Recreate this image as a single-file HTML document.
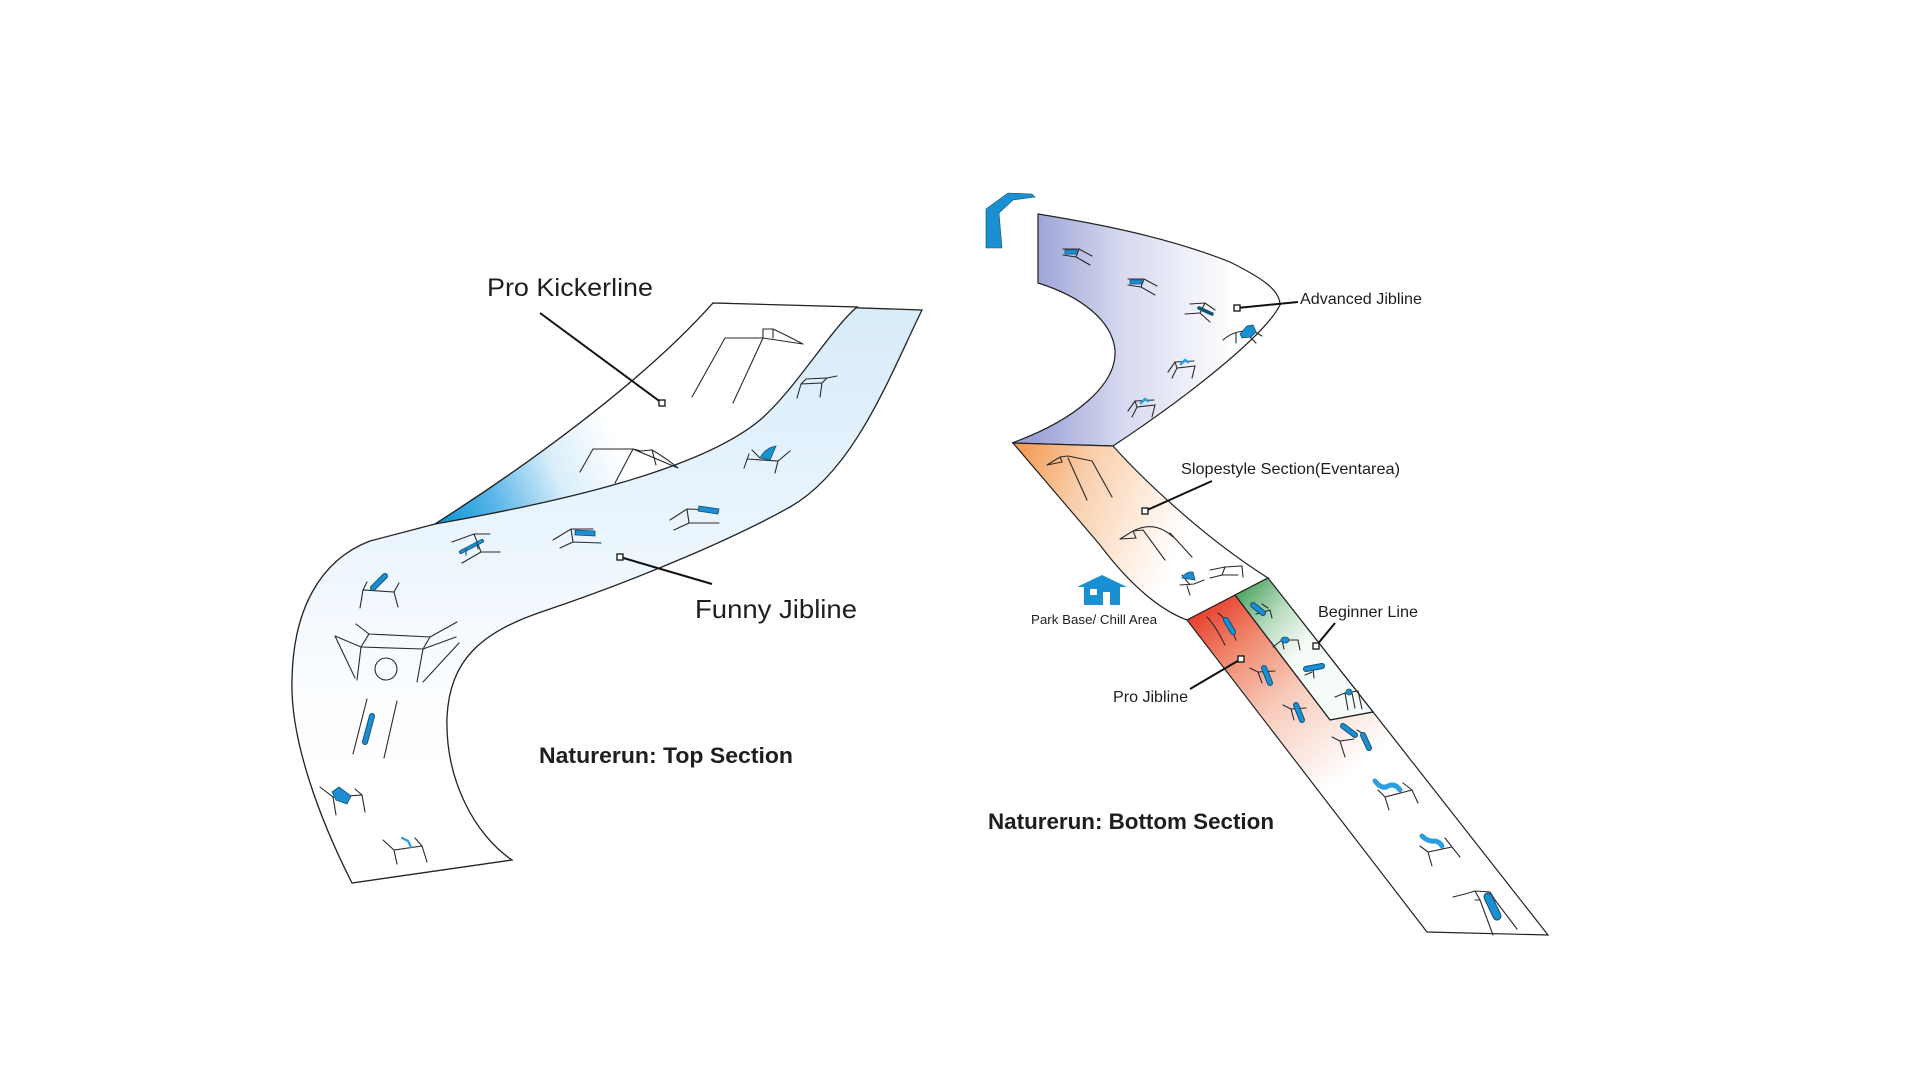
<!DOCTYPE html>
<html>
<head>
<meta charset="utf-8">
<style>
html,body{margin:0;padding:0;background:#fff;}
svg{display:block;}
text{font-family:"Liberation Sans",Arial,sans-serif;fill:#1e1e1e;}
</style>
</head>
<body>
<svg width="1920" height="1080" viewBox="0 0 1920 1080" xmlns="http://www.w3.org/2000/svg">
<defs>
  <linearGradient id="gLower" gradientUnits="userSpaceOnUse" x1="0" y1="300" x2="0" y2="780">
    <stop offset="0" stop-color="#d7ebfa"/>
    <stop offset="0.5" stop-color="#ebf5fd"/>
    <stop offset="0.82" stop-color="#fbfdff"/>
    <stop offset="1" stop-color="#ffffff"/>
  </linearGradient>
  <linearGradient id="gKick" gradientUnits="userSpaceOnUse" x1="440" y1="525" x2="620" y2="450">
    <stop offset="0" stop-color="#0a96d6"/>
    <stop offset="0.3" stop-color="#5ab5e8"/>
    <stop offset="0.65" stop-color="#d8eefa"/>
    <stop offset="1" stop-color="#ffffff"/>
  </linearGradient>
  <linearGradient id="gPurple" gradientUnits="userSpaceOnUse" x1="1030" y1="0" x2="1235" y2="0">
    <stop offset="0" stop-color="#9aa0d5"/>
    <stop offset="0.45" stop-color="#d6d9f0"/>
    <stop offset="1" stop-color="#ffffff"/>
  </linearGradient>
  <linearGradient id="gOrange" gradientUnits="userSpaceOnUse" x1="1013" y1="450" x2="1190" y2="520">
    <stop offset="0" stop-color="#f3974c"/>
    <stop offset="0.4" stop-color="#f9cfac"/>
    <stop offset="0.8" stop-color="#fff0e4"/>
    <stop offset="1" stop-color="#ffffff"/>
  </linearGradient>
  <linearGradient id="gRed" gradientUnits="userSpaceOnUse" x1="1190" y1="618" x2="1330" y2="790">
    <stop offset="0" stop-color="#e8402e"/>
    <stop offset="0.25" stop-color="#f08a70"/>
    <stop offset="0.55" stop-color="#f8cbbb"/>
    <stop offset="1" stop-color="#ffffff"/>
  </linearGradient>
  <linearGradient id="gGreen" gradientUnits="userSpaceOnUse" x1="1240" y1="590" x2="1305" y2="645">
    <stop offset="0" stop-color="#4fa462"/>
    <stop offset="0.5" stop-color="#b7dbbe"/>
    <stop offset="1" stop-color="#f5fbf6"/>
  </linearGradient>
</defs>

<rect width="1920" height="1080" fill="#ffffff"/>

<!-- ================= TOP SECTION ================= -->
<path d="M435,524 C520,470 640,385 713,303 L922,310 C890,375 855,470 790,507 C740,535 650,575 547,610 C480,632 450,660 447,717 C445,780 475,835 512,860 L352,883 C320,820 290,740 292,680 C293,610 320,560 370,541 L435,524 Z"
      fill="url(#gLower)" stroke="#222" stroke-width="1.3"/>
<path d="M435,524 C520,470 640,385 713,303 L857,307 C830,330 795,390 760,420 C700,470 560,502 435,524 Z"
      fill="url(#gKick)" stroke="#222" stroke-width="1.3"/>

<g fill="none" stroke="#2a2a2a" stroke-width="1.1" stroke-linecap="round">
  <path d="M692,397 L725,338 L763,338 L733,403 M763,338 L763,329 L773,329 L773,338 M773,329 Q788,336 803,344 M763,338 L803,344"/>
  <path d="M580,472 L593,449 L633,449 L615,483 M633,449 L641,451 L652,450 L656,465 M633,449 L678,468 M652,450 Q666,458 678,468"/>
  <path d="M797,398 L801,384 L822,383 L820,397 M801,384 L806,379 L827,378 L822,383 M827,378 L837,376"/>
  <path d="M744,468 L749,454 M747,459 L778,461 L790,451 M778,461 L775,473 M752,450 L760,458"/>
  <path d="M670,520 L687,509 L716,510 M687,509 L689,523 L674,530 M689,523 L719,523"/>
  <path d="M553,540 L571,529 L593,529 M571,529 L573,542 L560,548 M573,542 L601,543"/>
  <path d="M452,542 L474,534 L490,534 M474,534 L481,552 L500,552 M481,552 L462,563"/>
  <path d="M360,608 L363,590 L394,592 L398,607 M363,590 L367,582 M394,592 L399,583"/>
  <path d="M369,634 L430,637 L423,649 L361,647 Z M369,634 L356,624 M430,637 L457,622 M423,649 L456,637 M361,647 L335,636 M361,647 L357,680 M335,636 L355,678 M423,649 L417,682 M459,643 L423,682"/>
  <circle cx="386" cy="669" r="11"/>
  <path d="M367,699 L353,754 M397,701 L384,758"/>
  <path d="M320,787 L333,797 L362,795 L365,812 M333,797 L336,815 M355,789 L362,795"/>
  <path d="M383,840 L394,850 L422,846 L427,862 M394,850 L397,864 M415,838 L422,846"/>
</g>
<g fill="#1a8fd2" stroke="#14507a" stroke-width="0.8">
  <path d="M760,458 Q765,448 776,446 L770,460 Z"/>
  <polygon points="699,506 719,509 718,514 698,511"/>
  <polygon points="575,530 595,531 595,536 575,535"/>
  <polygon points="332,792 339,787 351,796 347,804 336,800"/>
</g>
<g fill="none" stroke-linecap="round">
  <path d="M461,552 L482,541" stroke="#14507a" stroke-width="4"/>
  <path d="M461,552 L482,541" stroke="#1a8fd2" stroke-width="2.4"/>
  <path d="M466,549 L466,555 M477,543 L478,549" stroke="#14507a" stroke-width="1.2"/>
  <path d="M373,588 L385,576" stroke="#14507a" stroke-width="6"/>
  <path d="M373,588 L385,576" stroke="#1a8fd2" stroke-width="4"/>
  <path d="M372,716 L365,742" stroke="#14507a" stroke-width="6"/>
  <path d="M372,716 L365,742" stroke="#1a8fd2" stroke-width="4"/>
  <path d="M402,838 L408,841 L411,847" stroke="#2aa0e0" stroke-width="2.2"/>
</g>

<g stroke="#111" stroke-width="2" fill="none">
  <path d="M540,313 L662,403"/>
  <path d="M620,557 L712,584"/>
</g>
<g fill="#fff" stroke="#111" stroke-width="1.3">
  <rect x="659" y="400" width="6" height="6"/>
  <rect x="617" y="554" width="6" height="6"/>
</g>

<text x="487" y="296" font-size="25" textLength="166" lengthAdjust="spacingAndGlyphs">Pro Kickerline</text>
<text x="695" y="618" font-size="26" textLength="162" lengthAdjust="spacingAndGlyphs">Funny Jibline</text>
<text x="539" y="763" font-size="22" font-weight="bold" textLength="254" lengthAdjust="spacingAndGlyphs">Naturerun: Top Section</text>

<!-- ================= BOTTOM SECTION ================= -->
<polygon points="986,209 1008,193 1032,194 1035,197 1013,200 999,213 1002,248 986,248" fill="#1a8fd2" stroke="#14507a" stroke-width="0.6"/>

<path d="M1038,214 L1038,283 C1080,296 1112,320 1115,350 C1117,385 1075,420 1012,443 L1113,446 C1190,395 1265,335 1280,305 C1280,290 1262,278 1230,262 C1170,238 1100,224 1038,214 Z"
      fill="url(#gPurple)" stroke="#222" stroke-width="1.2"/>
<path d="M1013,443 L1113,446 C1140,476 1200,535 1268,578 L1187,620 C1160,610 1130,585 1100,545 L1013,443 Z"
      fill="url(#gOrange)" stroke="#222" stroke-width="1.2"/>
<path d="M1187,620 L1268,578 L1548,935 L1427,932 Z" fill="url(#gRed)" stroke="#222" stroke-width="1.2"/>
<path d="M1235,595 L1268,578 L1373,712 L1330,720 Z" fill="url(#gGreen)" stroke="#222" stroke-width="1.2"/>

<g>
  <polygon points="1077,587 1102,575 1127,587" fill="#1a8fd2"/>
  <rect x="1084" y="586" width="36" height="19" fill="#1a8fd2"/>
  <rect x="1090" y="589" width="7" height="6" fill="#fff"/>
  <rect x="1103" y="592" width="7" height="13" fill="#fff"/>
</g>

<g fill="none" stroke="#2a2a2a" stroke-width="1.1" stroke-linecap="round">
  <path d="M1079,249 L1092,256 M1079,249 L1076,257 L1090,265 M1076,257 L1063,255 M1063,249 L1079,249"/>
  <path d="M1144,279 L1157,286 M1144,279 L1141,287 L1155,295 M1141,287 L1128,285 M1128,279 L1144,279"/>
  <path d="M1190,304 L1205,303 L1215,310 M1205,303 L1200,313 L1210,322 M1200,313 L1185,314"/>
  <path d="M1223,340 Q1232,332 1244,331 M1250,337 L1256,343 M1255,332 L1262,336 M1236,333 L1236,343"/>
  <path d="M1168,372 L1175,362 L1194,361 M1175,362 L1177,368 L1195,366 L1192,378 M1177,368 L1172,378"/>
  <path d="M1128,411 L1135,401 L1154,400 M1135,401 L1137,407 L1155,405 L1152,417 M1137,407 L1132,417"/>
  <path d="M1047,465 L1060,457 L1068,456 L1092,461 M1068,458 L1087,500 M1092,461 L1112,497 M1060,457 L1062,462 L1047,465"/>
  <path d="M1120,539 L1133,531 L1143,530 M1133,531 L1136,538 L1120,539 M1133,531 Q1155,520 1173,537 M1143,530 L1165,560 M1170,533 L1192,557"/>
  <path d="M1182,575 L1190,585 M1180,585 L1194,584 L1204,580 M1187,586 L1190,595"/>
  <path d="M1210,570 L1225,567 L1242,566 L1243,577 M1225,567 L1222,575 L1210,578 M1222,575 L1238,575"/>
  <path d="M1207,617 Q1215,625 1225,645 M1218,613 Q1228,620 1236,640"/>
  <path d="M1250,668 L1258,672 L1262,683 M1258,672 L1275,671"/>
  <path d="M1283,705 L1291,709 L1294,720 M1291,709 L1306,708"/>
  <path d="M1256,614 L1270,610 L1272,618 M1262,604 L1268,608"/>
  <path d="M1273,647 L1282,640 L1298,640 L1300,650 M1282,640 L1284,649"/>
  <path d="M1313,668 L1314,678 M1305,675 L1312,672"/>
  <path d="M1335,697 L1345,693 L1358,691 L1362,709 M1345,693 L1348,710 M1352,693 L1355,708"/>
  <path d="M1332,737 L1340,741 L1354,739 M1340,741 L1345,757 M1357,730 L1365,735"/>
  <path d="M1378,790 L1385,797 L1412,790 L1418,803 M1385,797 L1389,810 M1403,783 L1412,790"/>
  <path d="M1420,846 L1428,852 L1452,847 L1460,857 M1428,852 L1432,866 M1445,838 L1452,847"/>
  <path d="M1453,897 L1465,894 L1475,891 L1490,892 L1495,900 M1475,891 L1480,900 L1493,935 M1480,900 L1475,900 M1495,900 L1517,929"/>
  <path d="M1235,595 L1330,720 L1373,712" stroke="#222" stroke-width="1.2"/>
</g>

<g fill="#1a8fd2" stroke="#14507a" stroke-width="0.8">
  <polygon points="1065,250 1077,250 1077,254 1065,254"/>
  <polygon points="1130,280 1142,280 1142,284 1130,284"/>
  <polygon points="1240,334 1247,326 1253,325 1256,332 1251,337 1242,338"/>
  <path d="M1182,578 Q1186,571 1193,572 L1195,580 Z"/>
  <ellipse cx="1285" cy="640" rx="4" ry="3"/>
  <circle cx="1349" cy="692" r="3"/>
</g>
<g fill="none" stroke-linecap="round">
  <path d="M1199,308 L1212,314" stroke="#14507a" stroke-width="3.5"/>
  <path d="M1181,364 L1185,360 L1188,362" stroke="#2aa0e0" stroke-width="2.5"/>
  <path d="M1141,403 L1145,399 L1148,401" stroke="#2aa0e0" stroke-width="2.5"/>
  <g stroke="#14507a" stroke-width="6">
    <path d="M1226,620 L1233,632"/>
    <path d="M1264,668 L1270,683"/>
    <path d="M1296,705 L1302,720"/>
    <path d="M1253,605 L1263,613"/>
    <path d="M1306,669 L1322,666"/>
    <path d="M1343,726 L1355,735"/>
    <path d="M1363,735 L1369,748"/>
  </g>
  <g stroke="#1a8fd2" stroke-width="4">
    <path d="M1226,620 L1233,632"/>
    <path d="M1264,668 L1270,683"/>
    <path d="M1296,705 L1302,720"/>
    <path d="M1253,605 L1263,613"/>
    <path d="M1306,669 L1322,666"/>
    <path d="M1343,726 L1355,735"/>
    <path d="M1363,735 L1369,748"/>
  </g>
  <path d="M1375,781 Q1382,790 1388,786 Q1395,783 1400,790" stroke="#2a9ee0" stroke-width="5"/>
  <path d="M1422,836 Q1428,842 1435,841 Q1440,842 1442,846" stroke="#2a9ee0" stroke-width="5"/>
  <path d="M1488,897 L1497,916" stroke="#14507a" stroke-width="9"/>
  <path d="M1488,897 L1497,916" stroke="#1a8fd2" stroke-width="7"/>
</g>

<g stroke="#111" stroke-width="2" fill="none">
  <path d="M1237,308 L1298,302"/>
  <path d="M1145,511 L1212,481"/>
  <path d="M1316,646 L1335,623"/>
  <path d="M1241,659 L1190,689"/>
</g>
<g fill="#fff" stroke="#111" stroke-width="1.3">
  <rect x="1234" y="305" width="6" height="6"/>
  <rect x="1142" y="508" width="6" height="6"/>
  <rect x="1313" y="643" width="6" height="6"/>
  <rect x="1238" y="656" width="6" height="6"/>
</g>

<text x="1300" y="304" font-size="16" textLength="122" lengthAdjust="spacingAndGlyphs">Advanced Jibline</text>
<text x="1181" y="474" font-size="16" textLength="219" lengthAdjust="spacingAndGlyphs">Slopestyle Section(Eventarea)</text>
<text x="1318" y="617" font-size="16" textLength="100" lengthAdjust="spacingAndGlyphs">Beginner Line</text>
<text x="1113" y="702" font-size="16" textLength="75" lengthAdjust="spacingAndGlyphs">Pro Jibline</text>
<text x="1031" y="624" font-size="13" textLength="126" lengthAdjust="spacingAndGlyphs">Park Base/ Chill Area</text>
<text x="988" y="829" font-size="22" font-weight="bold" textLength="286" lengthAdjust="spacingAndGlyphs">Naturerun: Bottom Section</text>
</svg>
</body>
</html>
